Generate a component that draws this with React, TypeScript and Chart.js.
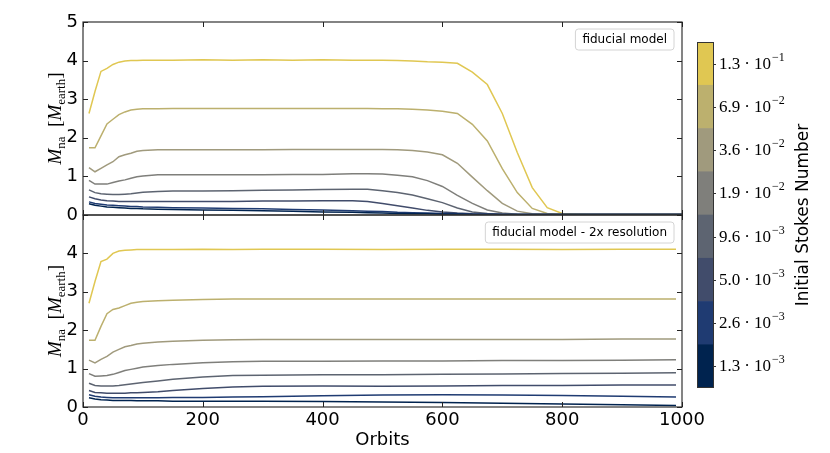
import { useEffect, useRef } from 'react';
import { Chart, registerables } from 'chart.js';

Chart.register(...registerables);
Chart.defaults.font.family = '"DejaVu Sans", sans-serif';
Chart.defaults.color = '#000';

// Orbit grids of the two runs
const fiducialOrbits = [10, 20, 30, 40, 50, 60, 70, 80, 90, 100, 125, 150, 200, 250, 300, 350, 400, 450, 475, 500, 525, 550, 575, 600, 625, 650, 675, 700, 725, 750, 775, 800, 850, 900, 950, 1000];
const hiresOrbits = [10, 20, 30, 40, 50, 60, 70, 80, 90, 100, 125, 150, 200, 250, 300, 400, 500, 600, 700, 800, 900, 990];

// Stokes number bins (bottom -> top of the colour bar)
const stokesMantissa = ['1.3', '2.6', '5.0', '9.6', '1.9', '3.6', '6.9', '1.3'];
const stokesExponent = ['−3', '−3', '−3', '−3', '−2', '−2', '−2', '−1'];
const stokesColors = ['#00234f', '#1f3b72', '#414c6b', '#5d6471', '#7f7f7b', '#a09a7d', '#bcb06e', '#e0c752'];

// fiducial model, M_na per Stokes bin
const fid13e3 = [0.29, 0.25, 0.23, 0.21, 0.20, 0.19, 0.18, 0.17, 0.17, 0.16, 0.15, 0.14, 0.13, 0.12, 0.11, 0.10, 0.08, 0.07, 0.06, 0.05, 0.04, 0.03, 0.03, 0.02, 0.02, 0.01, 0.01, 0.01, 0.01, 0.01, 0.01, 0.01, 0.01, 0.01, 0.01, 0.01];
const fid26e3 = [0.34, 0.30, 0.28, 0.26, 0.25, 0.24, 0.23, 0.22, 0.22, 0.21, 0.20, 0.19, 0.18, 0.17, 0.16, 0.14, 0.13, 0.11, 0.10, 0.09, 0.07, 0.06, 0.05, 0.04, 0.03, 0.02, 0.02, 0.01, 0.01, 0.01, 0.01, 0.01, 0.01, 0.01, 0.01, 0.01];
const fid50e3 = [0.47, 0.42, 0.39, 0.37, 0.36, 0.35, 0.35, 0.35, 0.35, 0.35, 0.35, 0.35, 0.35, 0.35, 0.36, 0.36, 0.37, 0.37, 0.35, 0.30, 0.24, 0.18, 0.12, 0.08, 0.05, 0.03, 0.02, 0.01, 0.01, 0.01, 0.01, 0.01, 0.01, 0.01, 0.01, 0.01];
const fid96e3 = [0.65, 0.58, 0.55, 0.54, 0.53, 0.53, 0.54, 0.55, 0.57, 0.59, 0.61, 0.62, 0.62, 0.63, 0.64, 0.65, 0.66, 0.67, 0.67, 0.63, 0.58, 0.52, 0.42, 0.32, 0.18, 0.08, 0.04, 0.02, 0.01, 0.01, 0.01, 0.01, 0.01, 0.01, 0.01, 0.01];
const fid19e2 = [0.90, 0.80, 0.80, 0.80, 0.84, 0.88, 0.91, 0.95, 0.99, 1.01, 1.04, 1.04, 1.04, 1.04, 1.04, 1.05, 1.05, 1.07, 1.07, 1.06, 1.03, 0.99, 0.89, 0.74, 0.51, 0.30, 0.13, 0.05, 0.02, 0.01, 0.01, 0.01, 0.01, 0.01, 0.01, 0.01];
const fid36e2 = [1.23, 1.12, 1.21, 1.30, 1.38, 1.51, 1.56, 1.60, 1.65, 1.67, 1.69, 1.69, 1.69, 1.69, 1.69, 1.70, 1.70, 1.70, 1.70, 1.70, 1.69, 1.67, 1.63, 1.56, 1.34, 0.98, 0.63, 0.30, 0.10, 0.03, 0.01, 0.01, 0.01, 0.01, 0.01, 0.01];
const fid69e2 = [1.74, 1.74, 2.05, 2.36, 2.48, 2.60, 2.67, 2.72, 2.74, 2.75, 2.75, 2.76, 2.76, 2.76, 2.76, 2.76, 2.76, 2.76, 2.76, 2.75, 2.75, 2.74, 2.72, 2.69, 2.63, 2.35, 1.92, 1.20, 0.58, 0.17, 0.04, 0.01, 0.01, 0.01, 0.01, 0.01];
const fid13e1 = [2.63, 3.20, 3.72, 3.80, 3.90, 3.96, 3.99, 4.00, 4.00, 4.01, 4.01, 4.01, 4.02, 4.01, 4.02, 4.01, 4.02, 4.01, 4.01, 4.01, 4.00, 3.99, 3.97, 3.96, 3.93, 3.70, 3.38, 2.63, 1.62, 0.71, 0.19, 0.04, 0.01, 0.01, 0.01, 0.01];

// fiducial model - 2x resolution
const hi13e3 = [0.24, 0.21, 0.19, 0.18, 0.17, 0.17, 0.17, 0.17, 0.16, 0.16, 0.16, 0.15, 0.15, 0.15, 0.15, 0.14, 0.13, 0.12, 0.10, 0.08, 0.06, 0.04];
const hi26e3 = [0.32, 0.28, 0.26, 0.25, 0.24, 0.24, 0.24, 0.24, 0.24, 0.24, 0.24, 0.25, 0.25, 0.26, 0.27, 0.29, 0.31, 0.32, 0.31, 0.30, 0.28, 0.26];
const hi50e3 = [0.43, 0.38, 0.37, 0.36, 0.36, 0.36, 0.36, 0.37, 0.37, 0.38, 0.40, 0.43, 0.48, 0.52, 0.54, 0.55, 0.54, 0.55, 0.56, 0.56, 0.57, 0.57];
const hi96e3 = [0.62, 0.56, 0.55, 0.55, 0.55, 0.56, 0.58, 0.60, 0.62, 0.64, 0.68, 0.72, 0.78, 0.82, 0.83, 0.84, 0.84, 0.85, 0.86, 0.87, 0.88, 0.89];
const hi19e2 = [0.87, 0.80, 0.81, 0.82, 0.85, 0.90, 0.95, 0.98, 1.01, 1.04, 1.08, 1.11, 1.15, 1.18, 1.19, 1.19, 1.20, 1.20, 1.21, 1.21, 1.22, 1.23];
const hi36e2 = [1.22, 1.15, 1.24, 1.32, 1.43, 1.50, 1.57, 1.60, 1.64, 1.66, 1.69, 1.71, 1.74, 1.75, 1.76, 1.76, 1.76, 1.76, 1.76, 1.76, 1.77, 1.77];
const hi69e2 = [1.74, 1.74, 2.10, 2.43, 2.54, 2.58, 2.64, 2.70, 2.73, 2.75, 2.77, 2.78, 2.80, 2.81, 2.81, 2.81, 2.81, 2.81, 2.81, 2.81, 2.81, 2.81];
const hi13e1 = [2.70, 3.27, 3.79, 3.85, 4.00, 4.06, 4.08, 4.09, 4.10, 4.10, 4.10, 4.10, 4.11, 4.10, 4.11, 4.11, 4.10, 4.11, 4.11, 4.10, 4.11, 4.11];

const fiducialSeries = [fid13e3, fid26e3, fid50e3, fid96e3, fid19e2, fid36e2, fid69e2, fid13e1];
const hiresSeries = [hi13e3, hi26e3, hi50e3, hi96e3, hi19e2, hi36e2, hi69e2, hi13e1];

const serif = '"Liberation Serif", "DejaVu Serif", serif';

// kill the automatic label padding so the plot areas sit where we put them
const noPad = (s: any) => {
  s.paddingTop = 0;
  s.paddingBottom = 0;
  s.paddingLeft = 0;
  s.paddingRight = 0;
};

// frame on all four sides + inward ticks (matplotlib style)
const frameTicks = {
  id: 'frameTicks',
  afterDatasetsDraw(chart: any) {
    const { ctx, chartArea: a, scales } = chart;
    ctx.save();
    ctx.strokeStyle = '#333';
    ctx.lineWidth = 1.2;
    ctx.strokeRect(a.left, a.top, a.right - a.left, a.bottom - a.top);
    ctx.lineWidth = 1;
    ctx.strokeStyle = '#222';
    ctx.beginPath();
    const len = 5;
    scales.x.ticks.forEach((t: any) => {
      const px = Math.round(scales.x.getPixelForValue(t.value)) + 0.5;
      ctx.moveTo(px, a.bottom); ctx.lineTo(px, a.bottom - len);
      ctx.moveTo(px, a.top); ctx.lineTo(px, a.top + len);
    });
    scales.y.ticks.forEach((t: any) => {
      const py = Math.round(scales.y.getPixelForValue(t.value)) + 0.5;
      ctx.moveTo(a.left, py); ctx.lineTo(a.left + len, py);
      ctx.moveTo(a.right, py); ctx.lineTo(a.right - len, py);
    });
    ctx.stroke();
    ctx.restore();
  },
  afterDraw(chart: any) {
    const { ctx, chartArea: a } = chart;
    const text = chart.options.plugins.frameTicks?.label;
    // y label: M_na [M_earth]
    const big = 19, small = 13;
    const parts = [
      { t: 'M', f: `italic ${big}px ${serif}`, dy: 0 },
      { t: 'na', f: `${small}px ${serif}`, dy: 4 },
      { t: '  [', f: `${big}px ${serif}`, dy: 0 },
      { t: 'M', f: `italic ${big}px ${serif}`, dy: 0 },
      { t: 'earth', f: `${small}px ${serif}`, dy: 4 },
      { t: ']', f: `${big}px ${serif}`, dy: 0 },
    ];
    ctx.save();
    let total = 0;
    const widths = parts.map(p => { ctx.font = p.f; const w = ctx.measureText(p.t).width; total += w; return w; });
    ctx.translate(61, (a.top + a.bottom) / 2);
    ctx.rotate(-Math.PI / 2);
    ctx.fillStyle = '#000';
    ctx.textBaseline = 'alphabetic';
    let x = -total / 2;
    parts.forEach((p, i) => {
      ctx.font = p.f;
      ctx.fillText(p.t, x, p.dy);
      x += widths[i];
    });
    ctx.restore();

    if (text) {
      ctx.save();
      ctx.font = '12px "DejaVu Sans"';
      const w = ctx.measureText(text).width + 14;
      const h = 21;
      const bx = a.right - 8 - w;
      const by = a.top + 7;
      ctx.beginPath();
      ctx.roundRect(bx, by, w, h, 3);
      ctx.fillStyle = 'rgba(255,255,255,0.9)';
      ctx.fill();
      ctx.strokeStyle = '#d4d4d4';
      ctx.lineWidth = 1;
      ctx.stroke();
      ctx.fillStyle = '#000';
      ctx.textBaseline = 'middle';
      ctx.fillText(text, bx + 7, by + h / 2 + 0.5);
      ctx.restore();
    }
  },
};

const colorbarDecor = {
  id: 'colorbarDecor',
  afterDraw(chart: any) {
    const { ctx, chartArea: a, scales } = chart;
    ctx.save();
    ctx.strokeStyle = '#333';
    ctx.lineWidth = 1;
    ctx.strokeRect(a.left + 0.5, a.top + 0.5, a.right - a.left - 1, a.bottom - a.top - 1);
    stokesMantissa.forEach((m, i) => {
      const py = Math.round(scales.y.getPixelForValue(i + 0.5)) + 0.5;
      ctx.beginPath();
      ctx.moveTo(a.right, py);
      ctx.lineTo(a.right + 2, py);
      ctx.stroke();
      let x = a.right + 5;
      ctx.fillStyle = '#000';
      ctx.textBaseline = 'middle';
      ctx.font = `17px ${serif}`;
      ctx.fillText(m, x, py);
      x += ctx.measureText(m).width + 4;
      ctx.fillText('·', x, py);
      x += ctx.measureText('·').width + 4;
      ctx.fillText('10', x, py);
      x += ctx.measureText('10').width + 1;
      ctx.font = `12px ${serif}`;
      ctx.fillText(stokesExponent[i], x, py - 7);
    });
    ctx.translate(114, (a.top + a.bottom) / 2);
    ctx.rotate(-Math.PI / 2);
    ctx.font = '17px "DejaVu Sans"';
    ctx.textAlign = 'center';
    ctx.textBaseline = 'middle';
    ctx.fillText('Initial Stokes Number', 0, 0);
    ctx.restore();
  },
};

function makeLineConfig(orbits: number[], series: number[][], label: string, bottom: boolean): any {
  return {
    type: 'line',
    data: {
      datasets: series.map((vals, i) => ({
        data: orbits.map((o, j) => ({ x: o, y: vals[j] })),
        borderColor: stokesColors[i],
        borderWidth: 1.5,
        pointRadius: 0,
        tension: 0,
        fill: false,
      })),
    },
    options: {
      responsive: false,
      animation: false,
      events: [],
      layout: { padding: bottom ? { top: 15, right: 28, bottom: 0, left: 0 } : { top: 22, right: 28, bottom: 10, left: 0 } },
      plugins: { legend: { display: false }, tooltip: { enabled: false }, frameTicks: { label } },
      scales: {
        x: {
          type: 'linear',
          min: 0,
          max: 1000,
          ticks: { stepSize: 200, display: bottom, font: { size: 18 }, padding: 3, maxRotation: 0, callback: (v: number) => String(v) },
          grid: { display: false, drawTicks: false },
          border: { display: false },
          title: bottom ? { display: true, text: 'Orbits', font: { size: 18 }, padding: { top: 0, bottom: 2 } } : { display: false },
          afterFit: (s: any) => { s.height = bottom ? 46 : 0; noPad(s); },
        },
        y: {
          min: 0,
          max: 5,
          ticks: {
            stepSize: 1,
            font: { size: 18 },
            padding: 5,
            callback: (v: number) => (bottom && v === 5 ? '' : String(v)),
          },
          grid: { display: false, drawTicks: false },
          border: { display: false },
          afterFit: (s: any) => { s.width = 83; noPad(s); },
        },
      },
    },
    plugins: [frameTicks],
  };
}

export default function App() {
  const topRef = useRef<HTMLCanvasElement>(null);
  const bottomRef = useRef<HTMLCanvasElement>(null);
  const barRef = useRef<HTMLCanvasElement>(null);

  useEffect(() => {
    const charts: Chart[] = [];
    if (topRef.current) charts.push(new Chart(topRef.current, makeLineConfig(fiducialOrbits, fiducialSeries, 'fiducial model', false)));
    if (bottomRef.current) charts.push(new Chart(bottomRef.current, makeLineConfig(hiresOrbits, hiresSeries, 'fiducial model - 2x resolution', true)));
    if (barRef.current) {
      charts.push(new Chart(barRef.current, {
        type: 'bar',
        data: {
          labels: [''],
          datasets: stokesColors.map(c => ({
            data: [1],
            backgroundColor: c,
            borderWidth: 0,
            barPercentage: 1,
            categoryPercentage: 1,
          })),
        },
        options: {
          responsive: false,
          animation: false,
          events: [],
          layout: { padding: { left: 7, top: 12, bottom: 12, right: 0 } },
          plugins: { legend: { display: false }, tooltip: { enabled: false } },
          scales: {
            x: { display: false, stacked: true },
            y: {
              stacked: true,
              min: 0,
              max: 8,
              position: 'right',
              ticks: { display: false },
              grid: { display: false, drawTicks: false },
              border: { display: false },
              afterFit: (s: any) => { s.width = 116; noPad(s); },
            },
          },
        },
        plugins: [colorbarDecor],
      } as any));
    }
    return () => charts.forEach(c => c.destroy());
  }, []);

  return (
    <div style={{ position: 'absolute', left: 0, top: 0, width: 830, height: 453, background: '#fff' }}>
      <canvas ref={topRef} width={710} height={225} style={{ position: 'absolute', left: 0, top: 0 }} />
      <canvas ref={bottomRef} width={710} height={253} style={{ position: 'absolute', left: 0, top: 200 }} />
      <canvas ref={barRef} width={140} height={370} style={{ position: 'absolute', left: 690, top: 30 }} />
    </div>
  );
}
